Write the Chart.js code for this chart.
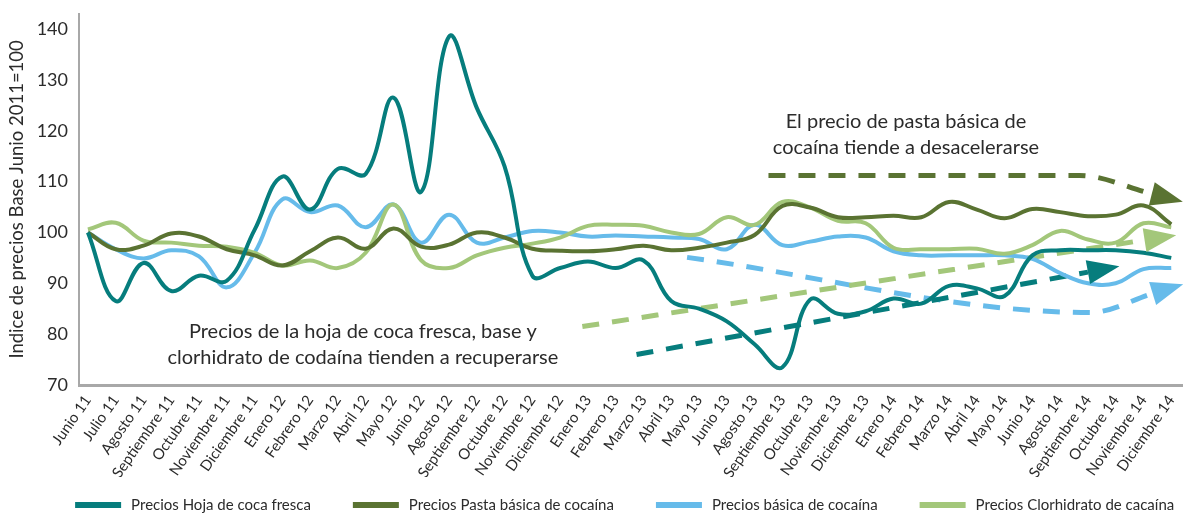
<!DOCTYPE html>
<html>
<head>
<meta charset="utf-8">
<script src="https://cdn.jsdelivr.net/npm/chart.js@4.4.0/dist/chart.umd.min.js"></script>
<style>
  html, body { margin: 0; padding: 0; background: #fff; }
  #wrap { width: 1193px; height: 515px; position: relative; }
</style>
</head>
<body>
<div id="wrap"><canvas id="grafico"></canvas></div>
<script>
const meses = [
  "Junio 11", "Julio 11", "Agosto 11", "Septiembre 11", "Octubre 11", "Noviembre 11", "Diciembre 11",
  "Enero 12", "Febrero 12", "Marzo 12", "Abril 12", "Mayo 12", "Junio 12", "Agosto 12", "Septiembre 12",
  "Octubre 12", "Noviembre 12", "Diciembre 12", "Enero 13", "Febrero 13", "Marzo 13", "Abril 13",
  "Mayo 13", "Junio 13", "Agosto 13", "Septiembre 13", "Octubre 13", "Noviembre 13", "Diciembre 13",
  "Enero 14", "Febrero 14", "Marzo 14", "Abril 14", "Mayo 14", "Junio 14", "Agosto 14",
  "Septiembre 14", "Octubre 14", "Noviembre 14", "Diciembre 14"
];

const hojaCoca = [100, 86.5, 94, 88.5, 91.5, 90.5, 100.5, 111, 104.5, 112.5, 111.5, 126.5, 108, 138.5, 124.5,
  113, 91.5, 93, 94.3, 93, 94.5, 86.5, 85, 82.5, 78, 73.5, 86.8, 84, 84.5, 87, 86, 89.5, 89, 87.5,
  95.5, 96.5, 96.5, 96.5, 96, 95];
const pastaBasica = [100, 96.7, 97.4, 99.8, 99.2, 96.7, 95.5, 93.5, 96.3, 99, 96.8, 100.8, 97.2, 97.6, 100,
  99, 96.8, 96.4, 96.3, 96.7, 97.4, 96.5, 97, 98, 99.5, 105.2, 104.9, 103, 103, 103.3, 103, 106,
  104.5, 102.8, 104.6, 104, 103.2, 103.5, 105.3, 101.6];
const basicaCocaina = [100, 96.7, 94.9, 96.5, 95.3, 89.2, 96, 106.5, 104, 105.3, 101, 105.5, 98, 103.5, 98,
  99, 100.3, 100, 99.2, 99.4, 99.2, 99, 98.7, 96.7, 101.5, 97.5, 98.2, 99.2, 99, 96.3, 95.5, 95.5,
  95.5, 95.5, 94.8, 92, 90, 90, 92.8, 93];
const clorhidrato = [100.6, 101.9, 98.4, 98, 97.4, 97.2, 96, 93.5, 94.5, 93, 96, 105.5, 94.5, 93, 95.5,
  97, 97.8, 99, 101.3, 101.5, 101.3, 100, 99.7, 103, 101.5, 106, 104.9, 102.3, 101.8, 97, 96.7, 96.7,
  96.8, 95.8, 97.5, 100.3, 98.6, 98, 101.8, 101];

// flechas de tendencia: [posición en meses, índice]
const tendPasta = [[24.5, 111.2], [35.7, 111.2], [38.3, 107.6]];
const tendHoja = [[19.75, 76], [36.0, 92.2]];
const tendClorhidrato = [[17.8, 81.5], [38.04, 98.5]];
const tendBasica = [[21.57, 95.1], [36.08, 84.25], [38.33, 88.0]];

const ticksY = [70, 80, 90, 100, 110, 120, 130, 140];

const colores = {
  hoja: "#067d7d",
  pasta: "#5a7332",
  basica: "#66bbea",
  clor: "#a3c77a"
};

const serie = (vals) => vals.map((v, i) => ({ x: i, y: v }));
const tramo = (pts) => pts.map(p => ({ x: p[0], y: p[1] }));

function linea(label, vals, color, orden) {
  return {
    label: label,
    data: serie(vals),
    borderColor: color,
    backgroundColor: color,
    borderWidth: 4,
    pointRadius: 0,
    tension: 0.4,
    order: orden
  };
}

function tendencia(pts, color) {
  return {
    label: "",
    tendencia: true,
    data: tramo(pts),
    borderColor: color,
    backgroundColor: color,
    borderWidth: 5,
    borderDash: [17, 13],
    pointRadius: 0,
    cubicInterpolationMode: "monotone",
    order: 6
  };
}

// punta de flecha al final de cada tendencia
const flechas = {
  id: "flechas",
  afterDatasetsDraw(chart) {
    const ctx = chart.ctx;
    chart.data.datasets.forEach((ds, i) => {
      if (!ds.tendencia) return;
      const pts = chart.getDatasetMeta(i).data;
      const a = pts[pts.length - 2], b = pts[pts.length - 1];
      const ang = Math.atan2(b.y - a.y, b.x - a.x);
      ctx.save();
      ctx.translate(b.x, b.y);
      ctx.rotate(ang);
      ctx.beginPath();
      ctx.moveTo(32, 0);
      ctx.lineTo(0, -12);
      ctx.lineTo(0, 12);
      ctx.closePath();
      ctx.fillStyle = ds.borderColor;
      ctx.fill();
      ctx.restore();
    });
  }
};

// textos explicativos
const notas = [
  { x: 29.45, y: 121.8, lineas: ["El precio de pasta básica de", "cocaína tiende a desacelerarse"] },
  { x: 9.9, y: 80.5, lineas: ["Precios de la hoja de coca fresca, base y", "clorhidrato de codaína tienden a recuperarse"] }
];

const textos = {
  id: "textos",
  afterDraw(chart) {
    const ctx = chart.ctx;
    const sx = chart.scales.x, sy = chart.scales.y;
    ctx.save();
    ctx.font = "20px Lato";
    ctx.fillStyle = "#2b2b2b";
    ctx.textAlign = "center";
    ctx.textBaseline = "middle";
    notas.forEach(n => {
      const px = sx.getPixelForValue(n.x);
      const py = sy.getPixelForValue(n.y);
      n.lineas.forEach((t, k) => ctx.fillText(t, px, py + k * 26));
    });
    ctx.restore();
  }
};

// leyenda inferior en una fila
const leyenda = {
  id: "leyenda",
  afterDraw(chart) {
    const ctx = chart.ctx;
    const items = chart.data.datasets.filter(d => !d.tendencia);
    const caja = 46, sep = 10, hueco = 42;
    ctx.save();
    ctx.font = "15px Lato";
    ctx.textBaseline = "middle";
    ctx.textAlign = "left";
    const anchos = items.map(d => caja + sep + ctx.measureText(d.label).width);
    const total = anchos.reduce((s, w) => s + w, 0) + hueco * (items.length - 1);
    let x = (chart.chartArea.left + chart.chartArea.right) / 2 - total / 2 - 6;
    const y = chart.height - 10;
    items.forEach((d, k) => {
      ctx.fillStyle = d.borderColor;
      ctx.fillRect(x, y - 3, caja, 6);
      ctx.fillStyle = "#2b2b2b";
      ctx.fillText(d.label, x + caja + sep, y);
      x += anchos[k] + hueco;
    });
    ctx.restore();
  }
};

new Chart(document.getElementById("grafico"), {
  type: "line",
  data: {
    datasets: [
      linea("Precios Hoja de coca fresca", hojaCoca, colores.hoja, 1),
      linea("Precios Pasta básica de cocaína", pastaBasica, colores.pasta, 2),
      linea("Precios básica de cocaína", basicaCocaina, colores.basica, 4),
      linea("Precios Clorhidrato de cacaína", clorhidrato, colores.clor, 3),
      tendencia(tendPasta, colores.pasta),
      tendencia(tendHoja, colores.hoja),
      tendencia(tendClorhidrato, colores.clor),
      tendencia(tendBasica, colores.basica)
    ]
  },
  options: {
    responsive: true,
    maintainAspectRatio: false,
    animation: false,
    devicePixelRatio: 1,
    layout: { padding: { top: 13, right: 0, left: 0, bottom: 38 } },
    elements: { line: { borderCapStyle: "butt" } },
    scales: {
      x: {
        type: "linear",
        min: -0.32,
        max: 39.4,
        grid: { display: false, drawTicks: false },
        border: { color: "#a8a8a8", width: 3 },
        ticks: {
          stepSize: 1,
          includeBounds: false,
          autoSkip: false,
          minRotation: 55,
          maxRotation: 55,
          padding: 7,
          color: "#2b2b2b",
          font: { family: "Lato", size: 15 },
          callback: (v) => meses[v] || ""
        },
        afterFit: (s) => { s.height = 92; }
      },
      y: {
        min: 70,
        max: 143,
        grid: { display: false },
        border: { color: "#a8a8a8", width: 2 },
        afterBuildTicks: (s) => { s.ticks = ticksY.map(v => ({ value: v })); },
        ticks: {
          color: "#2b2b2b",
          font: { family: "Lato", size: 18 },
          padding: 3
        },
        title: {
          display: true,
          text: "Indice de precios Base Junio 2011=100",
          color: "#2b2b2b",
          font: { family: "Lato", size: 18.5 },
          padding: { top: 6, bottom: 0 }
        },
        afterFit: (s) => { s.width = 79; }
      }
    },
    plugins: {
      legend: { display: false },
      tooltip: { enabled: false }
    }
  },
  plugins: [flechas, textos, leyenda]
});
</script>
</body>
</html>
